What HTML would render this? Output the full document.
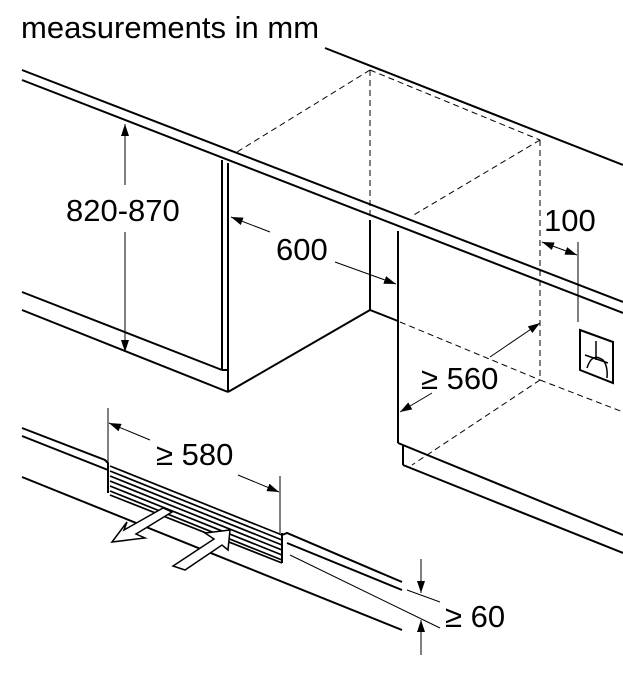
<!DOCTYPE html>
<html><head><meta charset="utf-8"><style>
html,body{margin:0;padding:0;background:#fff}
svg{display:block}
text{font-family:"Liberation Sans",sans-serif;fill:#000}
</style></head><body>
<svg width="623" height="689" viewBox="0 0 623 689" xmlns="http://www.w3.org/2000/svg">
<defs>
<marker id="a" markerWidth="12" markerHeight="8" refX="12" refY="4" orient="auto" markerUnits="userSpaceOnUse"><path d="M0,0 L12,4 L0,8 z" fill="#000"/></marker>
</defs>
<text x="21" y="38" font-size="31">measurements in mm</text>
<g stroke="#000" fill="none" stroke-width="2">
<line x1="325" y1="48" x2="623" y2="165"/>
<line x1="22" y1="70" x2="623" y2="302"/>
<line x1="22" y1="80" x2="623" y2="313"/>
<line x1="222" y1="160" x2="222" y2="370"/>
<line x1="228" y1="163" x2="228" y2="392"/>
<line x1="22" y1="292" x2="222" y2="370"/>
<line x1="22" y1="310" x2="228" y2="392"/>
<line x1="222" y1="370" x2="228" y2="370"/>
<line x1="228" y1="392" x2="370" y2="310"/>
<line x1="370" y1="220" x2="370" y2="310"/>
<line x1="370" y1="310" x2="398" y2="321"/>
<line x1="398" y1="231" x2="398" y2="443"/>
<line x1="398" y1="443" x2="623" y2="535"/>
<line x1="403" y1="446" x2="403" y2="465"/>
<line x1="403" y1="465" x2="623" y2="553"/>
<polyline points="22,428 105,460 108,463 108,493"/>
<line x1="22" y1="436" x2="108" y2="470"/>
<line x1="22" y1="477" x2="402" y2="630"/>
<line x1="282" y1="533" x2="282" y2="563"/>
<polyline points="282,535 287,533 402,582"/>
<line x1="287" y1="543" x2="402" y2="590"/>
</g>
<g stroke="#000" stroke-width="1.7">
<line x1="110" y1="466" x2="282" y2="535"/>
<line x1="110" y1="471" x2="282" y2="540"/>
<line x1="110" y1="476" x2="282" y2="545"/>
<line x1="110" y1="481" x2="282" y2="550"/>
<line x1="110" y1="486" x2="282" y2="555"/>
<line x1="110" y1="491" x2="282" y2="560"/>
<line x1="110" y1="495" x2="282" y2="563"/>
</g>
<g stroke="#000" stroke-width="1.5" fill="#fff">
<path d="M112,542 L127,522 L124,530 L163,508 L172,512 L136,534 L145,538 Z"/>
<path d="M230,530 L228,550 L222,545 L185,570 L173,566 L214,539 L205,533 Z"/>
</g>
<g stroke="#000" stroke-width="1" fill="none" stroke-dasharray="6,4">
<line x1="370" y1="70" x2="237" y2="152"/>
<line x1="370" y1="70" x2="540" y2="140"/>
<line x1="370" y1="70" x2="370" y2="222"/>
<line x1="540" y1="140" x2="412" y2="216"/>
<line x1="540" y1="140" x2="540" y2="380"/>
<line x1="400" y1="322" x2="540" y2="380"/>
<line x1="540" y1="380" x2="623" y2="412"/>
<line x1="540" y1="380" x2="412" y2="465"/>
</g>
<g stroke="#000" stroke-width="1" fill="none">
<line x1="125" y1="185" x2="125" y2="124" marker-end="url(#a)"/>
<line x1="125" y1="232" x2="125" y2="352" marker-end="url(#a)"/>
<line x1="270" y1="232" x2="231" y2="217" marker-end="url(#a)"/>
<line x1="335" y1="262" x2="396" y2="284" marker-end="url(#a)"/>
<line x1="558" y1="248" x2="542" y2="242" marker-end="url(#a)"/>
<line x1="558" y1="248" x2="577" y2="255" marker-end="url(#a)"/>
<line x1="578" y1="242" x2="578" y2="322"/>
<line x1="490" y1="357" x2="540" y2="323" marker-end="url(#a)"/>
<line x1="432" y1="393" x2="400" y2="412" marker-end="url(#a)"/>
<line x1="108" y1="408" x2="108" y2="462"/>
<line x1="280" y1="476" x2="280" y2="533"/>
<line x1="150" y1="440" x2="109" y2="423" marker-end="url(#a)"/>
<line x1="238" y1="475" x2="279" y2="492" marker-end="url(#a)"/>
<line x1="421" y1="559" x2="421" y2="593" marker-end="url(#a)"/>
<line x1="421" y1="655" x2="421" y2="620" marker-end="url(#a)"/>
<line x1="407" y1="590" x2="440" y2="602"/>
<line x1="290" y1="555" x2="440" y2="628"/>
</g>
<g stroke="#000" stroke-width="2" fill="none">
<polygon points="580,330 613,342 613,383 580,370"/>
<line x1="596" y1="341" x2="596" y2="360" stroke-width="1.5"/>
<line x1="585" y1="355" x2="608" y2="363" stroke-width="1.5"/>
<path d="M587,368 Q592,352 603,360 Q608,366 607,378" stroke-width="1.5"/>
</g>
<g font-size="31">
<text x="66" y="221">820-870</text>
<text x="276" y="260">600</text>
<text x="544" y="231">100</text>
<text x="421" y="389">≥ 560</text>
<text x="156" y="465">≥ 580</text>
<text x="445" y="627">≥ 60</text>
</g>
</svg>
</body></html>
